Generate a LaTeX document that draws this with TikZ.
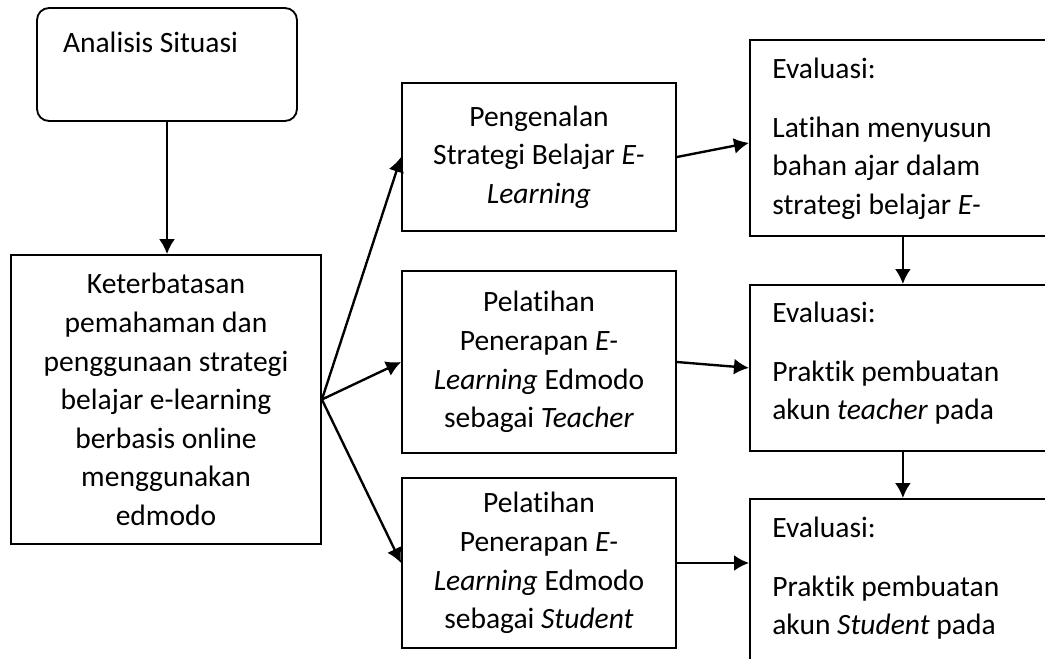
\documentclass[tikz,border=0pt]{standalone}
\usepackage{fontspec}
\setmainfont{Carlito}[Ligatures={NoCommon}]
\usetikzlibrary{arrows.meta}

\begin{document}
\begin{tikzpicture}[
    x=0.02cm, y=-0.02cm,
    txt/.style={font=\fontsize{16.8pt}{22pt}\selectfont},
    box/.style={rectangle, draw, line width=1.05pt, align=center, inner sep=0pt, txt},
    roundbox/.style={rectangle, draw, line width=1.05pt, rounded corners=0.24cm, align=flush left,
        text width=4.16cm, inner xsep=0.52cm, inner ysep=0pt, text height=0.88cm, text depth=1.38cm, txt},
    evbox/.style={rectangle, draw, line width=1.05pt, minimum width=6.12cm, anchor=north west},
    evtext/.style={anchor=base west, inner sep=0pt, txt},
    arrow/.style={-{Latex[length=0.3cm, width=0.32cm]}, line width=1.35pt}
]
    \useasboundingbox (0,0) rectangle (1045,659);
    \clip (0,0) rectangle (1045,659);

    % left column
    \node[roundbox] (ana) at (167,64.5) {Analisis Situasi};
    \node[box, minimum width=6.2cm, minimum height=5.78cm] (ket) at (166,399.5)
        {Keterbatasan\\ pemahaman dan\\ penggunaan strategi\\ belajar e-learning\\ berbasis online\\ menggunakan\\ edmodo};

    % middle column
    \node[box, minimum width=5.48cm, minimum height=2.96cm] (p1) at (539,157)
        {Pengenalan\\ Strategi Belajar \textit{E-}\\ \textit{Learning}};
    \node[box, minimum width=5.48cm, minimum height=3.64cm] (p2) at (539,362)
        {Pelatihan\\ Penerapan \textit{E-}\\ \textit{Learning} Edmodo\\ sebagai \textit{Teacher}};
    \node[box, minimum width=5.48cm, minimum height=3.4cm] (p3) at (539,563)
        {Pelatihan\\ Penerapan \textit{E-}\\ \textit{Learning} Edmodo\\ sebagai \textit{Student}};

    % right column
    \node[evbox, minimum height=3.92cm] (ev1) at (749,39) {};
    \node[evbox, minimum height=3.32cm] (ev2) at (749,284) {};
    \node[evbox, minimum height=4cm] (ev3) at (749,498) {};
    \node[evtext] (ev1txt) at (772,78)
        {\parbox[t]{5.6cm}{Evaluasi:\\[0.41cm]Latihan menyusun\\ bahan ajar dalam\\ strategi belajar \textit{E-}}};
    \node[evtext] (ev2txt) at (772,322)
        {\parbox[t]{5.6cm}{Evaluasi:\\[0.41cm]Praktik pembuatan\\ akun \textit{teacher} pada}};
    \node[evtext] (ev3txt) at (772,537)
        {\parbox[t]{5.6cm}{Evaluasi:\\[0.41cm]Praktik pembuatan\\ akun \textit{Student} pada}};

    \draw[arrow] (ana.south) -- (ana.south |- ket.north);
    \foreach \n in {p1,p2,p3}
        \draw[arrow] (ket.east) -- (\n.west);
    \draw[arrow] (p1.east) -- ([yshift=-0.1cm]ev1.west);
    \draw[arrow] (p2.east) -- (ev2.west);
    \draw[arrow] (p3.east) -- (p3.east -| ev3.west);
    \draw[arrow] (ev1) -- (ev2);
    \draw[arrow] (ev2) -- (ev3);
\end{tikzpicture}
\end{document}
